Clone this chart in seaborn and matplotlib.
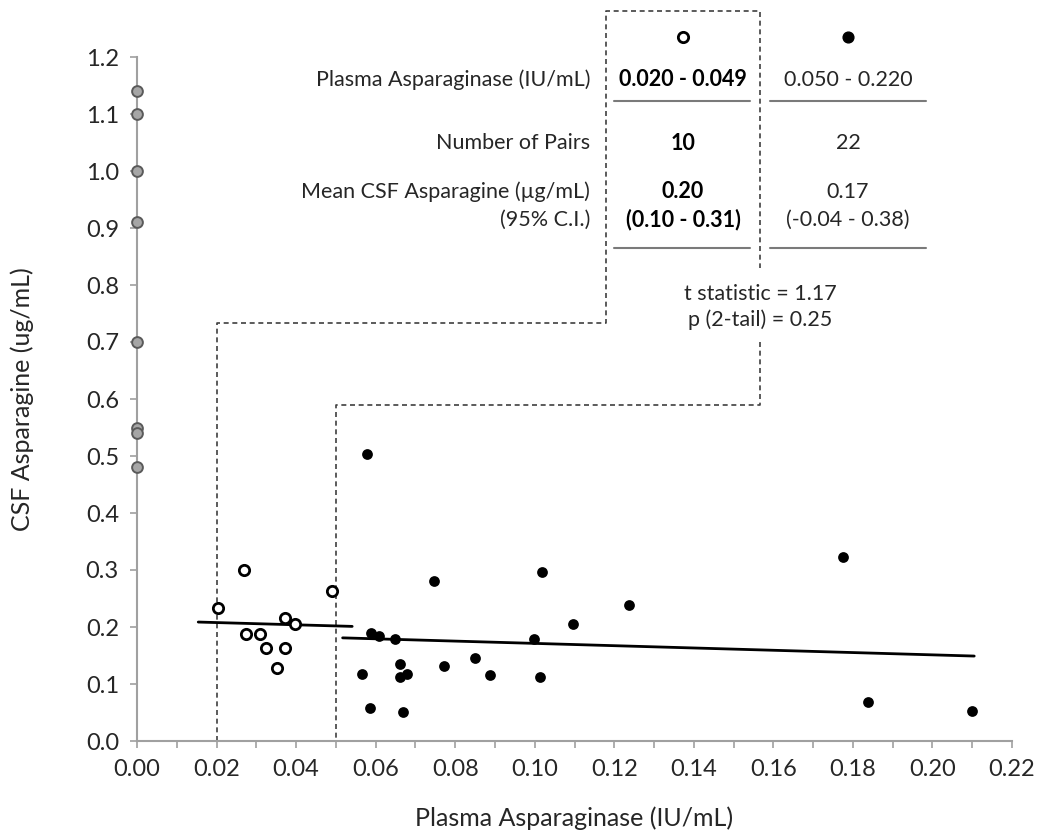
import numpy as np
import pandas as pd
import matplotlib
matplotlib.use("Agg")
import matplotlib.pyplot as plt
import seaborn as sns
from matplotlib.lines import Line2D

# ----------- DONNÉES ---------------------------------

# CSF asparagine quand l'asparaginase plasmatique est indétectable
zero_x = [0.0, 0.0, 0.0, 0.0, 0.0, 0.0, 0.0, 0.0]
zero_y = [1.14, 1.10, 1.00, 0.91, 0.70, 0.55, 0.54, 0.48]

# groupe 0.020 - 0.049 IU/mL (cercles ouverts)
low_x = [0.0204, 0.0270, 0.0491, 0.0372, 0.0397, 0.0273, 0.0308, 0.0325, 0.0371, 0.0351]
low_y = [0.234, 0.300, 0.264, 0.215, 0.206, 0.188, 0.188, 0.164, 0.164, 0.128]

# groupe 0.050 - 0.220 IU/mL (points pleins)
high_x = [0.0578, 0.0747, 0.1018, 0.1237, 0.1097, 0.0588, 0.0609, 0.0649, 0.0998, 0.0851,
          0.0772, 0.0661, 0.0566, 0.0661, 0.0678, 0.0888, 0.1013, 0.0586, 0.0668, 0.1775,
          0.1837, 0.2099]
high_y = [0.503, 0.280, 0.296, 0.239, 0.205, 0.189, 0.185, 0.179, 0.179, 0.145,
          0.132, 0.135, 0.118, 0.112, 0.118, 0.116, 0.113, 0.058, 0.051, 0.323,
          0.068, 0.052]

# étendue des droites de tendance
low_trend_range = [0.0154, 0.0541]
high_trend_range = [0.0517, 0.2105]

# tableau
row_labels = ["Plasma Asparaginase (IU/mL)", "Number of Pairs",
              "Mean CSF Asparagine (\u00b5g/mL)", "(95% C.I.)"]
low_col = ["0.020 - 0.049", "10", "0.20", "(0.10 - 0.31)"]
high_col = ["0.050 - 0.220", "22", "0.17", "(-0.04 - 0.38)"]
stats_text = "t statistic = 1.17\np (2-tail) = 0.25"

# ----------- STYLE ------------
sns.set_style("ticks")
plt.rcParams['font.family'] = ['Lato', 'DejaVu Sans']
GRAY = "#a0a0a0"
TXT = "#262626"

W, H = 1044, 838
fig = plt.figure(figsize=(W / 100, H / 100), dpi=100)
ax = fig.add_axes([137 / W, 1 - 741 / H, 875 / W, 684 / H])


def fx(px):
    return px / W


def fy(py):
    return 1 - py / H


# ----------- POINTS ------------
sns.scatterplot(x=zero_x, y=zero_y, ax=ax, s=60, color="#a6a6a6",
                edgecolor="#5a5a5a", linewidth=1.4, clip_on=False, zorder=4)
sns.scatterplot(x=low_x, y=low_y, ax=ax, s=55, color="white",
                edgecolor="black", linewidth=2.0, zorder=4)
sns.scatterplot(x=high_x, y=high_y, ax=ax, s=60, color="black",
                edgecolor="black", linewidth=0, zorder=4)

# droites de tendance (moindres carrés)
for xs, ys, rng in [(low_x, low_y, low_trend_range), (high_x, high_y, high_trend_range)]:
    k, b = np.polyfit(xs, ys, 1)
    tx = np.array(rng)
    sns.lineplot(x=tx, y=k * tx + b, ax=ax, color="black", linewidth=2.0, zorder=3)

# ----------- CADRES POINTILLÉS ------------
dash = dict(color="#404040", linewidth=1.2, linestyle=(0, (3, 2.2)), clip_on=False, zorder=2)
ax.plot([0.02, 0.02, 0.1179, 0.1179, 0.1567, 0.1567],
        [0.0, 0.733, 0.733, 1.281, 1.281, 0.830], **dash)
ax.plot([0.1567, 0.1567, 0.05, 0.05],
        [0.700, 0.589, 0.589, 0.0], **dash)

# ----------- AXES ------------
ax.set_xlim(0, 0.22)
ax.set_ylim(0, 1.2)
ax.set_xticks(np.arange(0, 0.2201, 0.02))
ax.set_xticks(np.arange(0, 0.2201, 0.01), minor=True)
ax.set_yticks(np.arange(0, 1.201, 0.1))
ax.set_xticklabels([f"{v:.2f}" for v in np.arange(0, 0.2201, 0.02)])
ax.set_yticklabels([f"{v:.1f}" for v in np.arange(0, 1.201, 0.1)])
ax.tick_params(axis="both", which="both", direction="out", length=5, width=1.2,
               color=GRAY, labelsize=17, labelcolor=TXT, pad=8)
ax.tick_params(axis="x", which="minor", length=5)
sns.despine(ax=ax)
for sp in ["left", "bottom"]:
    ax.spines[sp].set_color(GRAY)
    ax.spines[sp].set_linewidth(1.5)

ax.set_xlabel("Plasma Asparaginase (IU/mL)", fontsize=18, color=TXT)
ax.set_ylabel("CSF Asparagine (ug/mL)", fontsize=18, color=TXT)
ax.xaxis.set_label_coords(0.5, -0.095)
ax.yaxis.set_label_coords(-0.118, 0.5)

# ----------- TABLEAU ------------
row_y = [80, 143, 192, 220]
for lab, yy in zip(row_labels, row_y):
    fig.text(fx(590), fy(yy), lab, ha="right", va="center", fontsize=15.5, color=TXT)
for col, cx, bold in [(low_col, 683, True), (high_col, 848, False)]:
    for val, yy in zip(col, row_y):
        fig.text(fx(cx), fy(yy), val, ha="center", va="center", fontsize=15.5,
                 color=TXT if not bold else "black",
                 fontweight="bold" if bold else "normal")

for x0, x1 in [(614, 750), (770, 926)]:
    for yy in [101, 248]:
        fig.add_artist(Line2D([fx(x0), fx(x1)], [fy(yy), fy(yy)],
                              color="#7a7a7a", linewidth=1.5))

ax.scatter([fx(683)], [fy(37)], s=55, facecolor="white", edgecolor="black",
           linewidth=2.0, transform=fig.transFigure, clip_on=False, zorder=5)
ax.scatter([fx(848)], [fy(37)], s=60, color="black",
           transform=fig.transFigure, clip_on=False, zorder=5)

fig.text(fx(760), fy(307), stats_text, ha="center", va="center", fontsize=15.5,
         color=TXT, linespacing=1.35)

fig.savefig("out.png", dpi=100)
